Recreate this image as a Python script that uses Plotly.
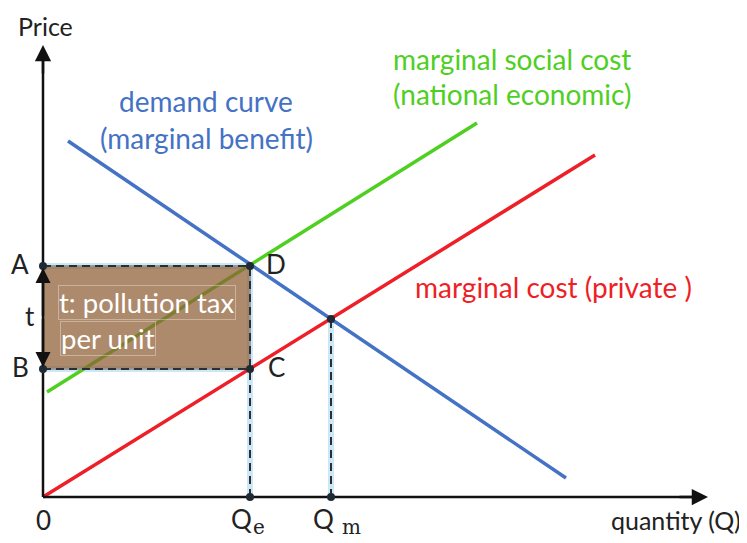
import plotly.graph_objects as go

# ---- data (units: horizontal/vertical distance from origin) ----
demand_q = [25, 523]
demand_p = [356, 19]
msc_q = [4, 434]
msc_p = [105, 374]
mc_q = [0, 552]
mc_p = [0, 342]
Q_e = 207
Q_m = 288
price_A = 231
price_B = 128
price_m = 178
x_axis_end = 665
y_axis_end = 452

FONT = "Lato"
BLUE = "#4472c4"
GREEN = "#4fcf1f"
RED = "#ee1f26"
DOT = "#1f2a33"

fig = go.Figure()

# light blue guide bands
band = dict(color="rgba(195,228,246,0.85)", width=6)
fig.add_trace(go.Scatter(x=[Q_e, Q_e], y=[0, price_A], mode="lines", line=band, hoverinfo="skip"))
fig.add_trace(go.Scatter(x=[Q_m, Q_m], y=[0, price_m], mode="lines", line=band, hoverinfo="skip"))
fig.add_trace(go.Scatter(x=[0, Q_e], y=[price_A, price_A], mode="lines", line=band, hoverinfo="skip"))
fig.add_trace(go.Scatter(x=[0, Q_e], y=[price_B, price_B], mode="lines", line=band, hoverinfo="skip"))

# curves
fig.add_trace(go.Scatter(x=demand_q, y=demand_p, mode="lines", line=dict(color=BLUE, width=3.5)))
fig.add_trace(go.Scatter(x=msc_q, y=msc_p, mode="lines", line=dict(color=GREEN, width=3.5)))
fig.add_trace(go.Scatter(x=mc_q, y=mc_p, mode="lines", line=dict(color=RED, width=3.5)))

# tax rectangle
fig.add_trace(go.Scatter(x=[0, Q_e, Q_e, 0, 0], y=[price_B, price_B, price_A, price_A, price_B],
                         mode="lines", fill="toself", fillcolor="rgba(142,94,53,0.73)",
                         line=dict(color="rgba(150,150,150,0.9)", width=2), hoverinfo="skip"))

# dashed guides
dash = dict(color="#2b2f33", width=2, dash="8px,5px")
fig.add_trace(go.Scatter(x=[0, Q_e], y=[price_A, price_A], mode="lines", line=dash))
fig.add_trace(go.Scatter(x=[0, Q_e], y=[price_B, price_B], mode="lines", line=dash))
fig.add_trace(go.Scatter(x=[Q_e, Q_e], y=[0, price_A], mode="lines", line=dash))
fig.add_trace(go.Scatter(x=[Q_m, Q_m], y=[0, price_m], mode="lines", line=dash))

# axes lines
fig.add_trace(go.Scatter(x=[0, 0], y=[0, y_axis_end - 12], mode="lines", line=dict(color="#111", width=2.5)))
fig.add_trace(go.Scatter(x=[0, x_axis_end - 12], y=[0, 0], mode="lines", line=dict(color="#111", width=2.5)))

# points
fig.add_trace(go.Scatter(x=[0, 0, Q_e, Q_e, Q_e, Q_m, Q_m],
                         y=[price_A, price_B, price_A, price_B, 0, 0, price_m],
                         mode="markers", marker=dict(color=DOT, size=8)))

ann = []
# axis arrowheads
ann.append(dict(x=0, y=y_axis_end, ax=0, ay=y_axis_end - 30, xref="x", yref="y", axref="x", ayref="y",
                text="", showarrow=True, arrowhead=2, arrowsize=1.3, arrowwidth=2.5, arrowcolor="#111"))
ann.append(dict(x=x_axis_end, y=0, ax=x_axis_end - 30, ay=0, xref="x", yref="y", axref="x", ayref="y",
                text="", showarrow=True, arrowhead=2, arrowsize=1.3, arrowwidth=2.5, arrowcolor="#111"))
# t arrows
ann.append(dict(x=0, y=price_A - 2, ax=0, ay=(price_A + price_B) / 2, xref="x", yref="y", axref="x", ayref="y",
                text="", showarrow=True, arrowhead=2, arrowsize=1.2, arrowwidth=2.5, arrowcolor="#111"))
ann.append(dict(x=0, y=price_B + 2, ax=0, ay=(price_A + price_B) / 2, xref="x", yref="y", axref="x", ayref="y",
                text="", showarrow=True, arrowhead=2, arrowsize=1.2, arrowwidth=2.5, arrowcolor="#111"))


def txt(x, y, s, color="#222", size=26, xanchor="center", family=FONT, yanchor="middle", **kw):
    d = dict(x=x, y=y, xref="x", yref="y", text=s, showarrow=False, xanchor=xanchor, yanchor=yanchor,
             font=dict(family=family, size=size, color=color))
    d.update(kw)
    ann.append(d)


txt(2, 488, "Price", size=25, yanchor="top")
txt(700, -23, "quantity (Q)", xanchor="right", size=25)
txt(0, -23, "0")
txt(198, -22, "Q")
txt(216, -30, "e", family="DejaVu Serif", size=20)
txt(280, -22, "Q")
txt(308, -30, "m", family="DejaVu Serif", size=20)
txt(-23, price_A + 2, "A")
txt(-23, price_B + 2, "B")
txt(-13, (price_A + price_B) / 2 + 2, "t")
txt(Q_e + 26, price_A + 2, "D")
txt(Q_e + 26, price_B + 2, "C")

txt(163, 396, "demand curve", color=BLUE, size=28)
txt(163, 359, "(marginal benefit)", color=BLUE, size=28)
txt(469, 438, "marginal social cost", color=GREEN, size=28)
txt(469, 403, "(national economic)", color=GREEN, size=28)
txt(510, 210, "marginal cost (private )", color=RED, size=28)

txt(15, 195, "t: pollution tax", color="white", size=27.5, xanchor="left",
    bordercolor="rgba(255,255,255,0.35)", borderwidth=1, borderpad=0)
txt(17, 159, "per unit", color="white", size=27.5, xanchor="left",
    bordercolor="rgba(255,255,255,0.35)", borderwidth=1, borderpad=0)

# the page body adds an 8px margin; the figure is sized to fit the window after it
fig.update_layout(
    width=739, height=535,
    margin=dict(l=0, r=0, t=0, b=0, autoexpand=False),
    paper_bgcolor="white", plot_bgcolor="white",
    showlegend=False,
    xaxis=dict(range=[-35, 704], visible=False, fixedrange=True),
    yaxis=dict(range=[-46, 489], visible=False, fixedrange=True),
    annotations=ann,
)

fig.write_html("out.html")
